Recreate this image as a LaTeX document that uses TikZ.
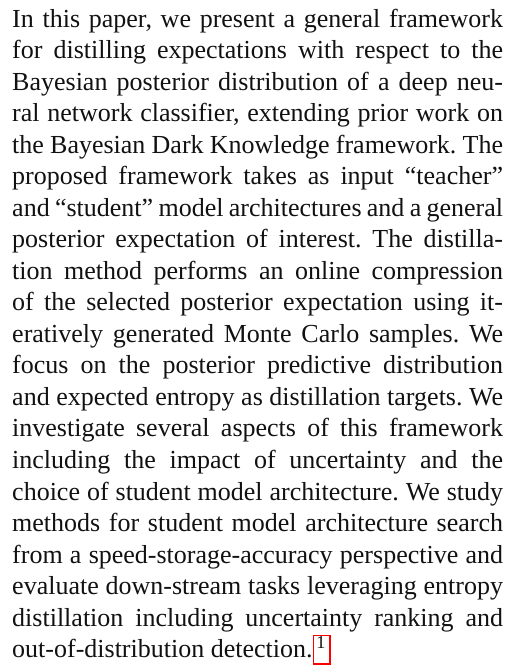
\documentclass[tikz,border=0pt]{standalone}
\usepackage{fontspec}
\setmainfont{Liberation Serif}
\usetikzlibrary{positioning}
\definecolor{LinkRed}  {HTML}{FF0000}
\definecolor{InkBlack} {HTML}{111111}
% paragraph settings: lines are broken by hand
\newcommand\abstractsetup{\frenchspacing\hyphenpenalty=10000
  \exhyphenpenalty=10000\tolerance=10000\relax}
\tikzset{
  abstractpara/.style={inner sep=0pt,text width=188.8pt,align=justify,
                       anchor=base west,text=InkBlack,
                       font=\fontsize{10}{12.13}\selectfont,
                       execute at begin node=\abstractsetup},
}
% footnote mark inside a red link border
\newcommand\fnlinkmark[1]{{\setlength{\fboxsep}{0pt}\setlength{\fboxrule}{0.5pt}%
  \fcolorbox{LinkRed}{white}{\kern1pt\rule[-2.2pt]{0pt}{9.5pt}\textsuperscript{#1}\kern1pt}}}

\begin{document}
\begin{tikzpicture}

  \useasboundingbox (0,0) rectangle (196.9pt,255.8pt);

  \node[abstractpara] (abstract) at (4.5pt,245.4pt)
    {In this paper, we present a general framework\linebreak
     for distilling expectations with respect to the\linebreak
     Bayesian posterior distribution of a deep neu-\linebreak
     ral network classifier, extending prior work on\linebreak
     the Bayesian Dark Knowledge framework. The\linebreak
     proposed framework takes as input ``teacher''\linebreak
     and ``student'' model architectures and a general\linebreak
     posterior expectation of interest. The distilla-\linebreak
     tion method performs an online compression\linebreak
     of the selected posterior expectation using it-\linebreak
     eratively generated Monte Carlo samples. We\linebreak
     focus on the posterior predictive distribution\linebreak
     and expected entropy as distillation targets. We\linebreak
     investigate several aspects of this framework\linebreak
     including the impact of uncertainty and the\linebreak
     choice of student model architecture. We study\linebreak
     methods for student model architecture search\linebreak
     from a speed-storage-accuracy perspective and\linebreak
     evaluate down-stream tasks leveraging entropy\linebreak
     distillation including uncertainty ranking and\linebreak
     out-of-distribution detection.\fnlinkmark{1}};

\end{tikzpicture}
\end{document}
